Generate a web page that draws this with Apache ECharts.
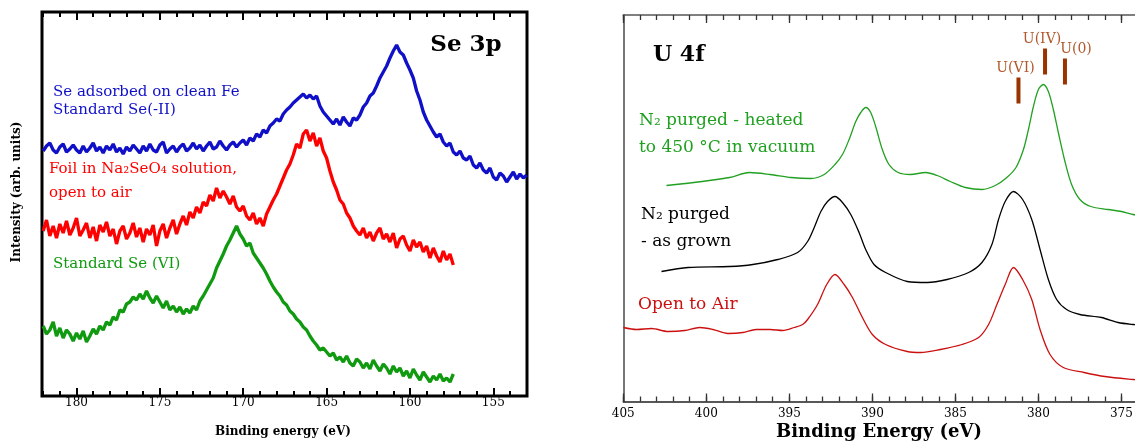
<!DOCTYPE html>
<html>
<head>
<meta charset="utf-8">
<script src="https://cdn.jsdelivr.net/npm/echarts@6/dist/echarts.min.js"></script>
<style>
  html, body { margin: 0; padding: 0; background: #fff; overflow: hidden; }
  #chart { width: 1135px; height: 445px; }
</style>
</head>
<body>
<div id="chart"></div>
<script>
// ---- Se 3p panel (binding energy eV, intensity arb. units) ----
const seAdsorbed = [
  [182.0,245],[181.8,250],[181.6,253],[181.4,246],[181.2,243],[181.0,249],[180.8,252],[180.6,244],
  [180.4,247],[180.2,251],[180.0,246],[179.8,243],[179.6,250],[179.4,244],[179.2,248],[179.0,253],
  [178.8,245],[178.6,249],[178.4,243],[178.2,250],[178.0,246],[177.8,252],[177.6,244],[177.4,248],
  [177.2,242],[177.0,249],[176.8,245],[176.6,251],[176.4,247],[176.2,243],[176.0,250],[175.8,245],
  [175.6,252],[175.4,246],[175.2,244],[175.0,251],[174.8,254],[174.6,243],[174.4,247],[174.2,250],
  [174.0,244],[173.8,249],[173.6,252],[173.4,245],[173.2,248],[173.0,253],[172.8,247],[172.6,251],
  [172.4,245],[172.2,250],[172.0,254],[171.8,247],[171.6,249],[171.4,255],[171.2,250],[171.0,246],
  [170.8,251],[170.6,254],[170.4,249],[170.2,253],[170.0,256],[169.8,251],[169.6,258],[169.4,255],
  [169.2,262],[169.0,259],[168.8,266],[168.6,263],[168.4,270],[168.2,273],[168.0,277],[167.8,275],
  [167.6,282],[167.4,286],[167.2,289],[167.0,293],[166.8,296],[166.6,299],[166.4,302],[166.2,298],
  [166.0,301],[165.8,297],[165.6,300],[165.4,290],[165.2,284],[165.0,280],[164.8,276],[164.6,272],
  [164.4,277],[164.2,271],[164.0,279],[163.8,274],[163.6,270],[163.4,278],[163.2,276],[163.0,281],
  [162.8,289],[162.6,293],[162.4,300],[162.2,303],[162.0,310],[161.8,318],[161.6,324],[161.4,330],
  [161.2,338],[161.0,345],[160.8,351],[160.6,344],[160.4,341],[160.2,333],[160.0,326],[159.8,318],
  [159.6,305],[159.4,296],[159.2,284],[159.0,276],[158.8,270],[158.6,264],[158.4,259],[158.2,262],
  [158.0,254],[157.8,250],[157.6,253],[157.4,244],[157.2,241],[157.0,245],[156.8,238],[156.6,236],
  [156.4,240],[156.2,231],[156.0,228],[155.8,233],[155.6,226],[155.4,223],[155.2,228],[155.0,219],
  [154.8,216],[154.6,223],[154.4,220],[154.2,214],[154.0,219],[153.8,224],[153.6,217],[153.4,222],
  [153.2,218],[153.0,221]
];
const seFoil = [
  [182.0,165],[181.8,176],[181.6,160],[181.4,170],[181.2,158],[181.0,172],[180.8,163],[180.6,175],
  [180.4,161],[180.2,168],[180.0,178],[179.8,160],[179.6,166],[179.4,173],[179.2,158],[179.0,169],
  [178.8,155],[178.6,171],[178.4,164],[178.2,174],[178.0,160],[177.8,167],[177.6,152],[177.4,165],
  [177.2,170],[177.0,157],[176.8,163],[176.6,173],[176.4,159],[176.2,168],[176.0,154],[175.8,167],
  [175.6,161],[175.4,171],[175.2,150],[175.0,165],[174.8,172],[174.6,158],[174.4,168],[174.2,176],
  [174.0,162],[173.8,172],[173.6,180],[173.4,171],[173.2,184],[173.0,178],[172.8,189],[172.6,183],
  [172.4,194],[172.2,190],[172.0,201],[171.8,195],[171.6,208],[171.4,198],[171.2,205],[171.0,199],
  [170.8,192],[170.6,200],[170.4,189],[170.2,185],[170.0,190],[169.8,180],[169.6,176],[169.4,183],
  [169.2,172],[169.0,178],[168.8,170],[168.6,182],[168.4,189],[168.2,196],[168.0,202],[167.8,210],
  [167.6,218],[167.4,226],[167.2,232],[167.0,241],[166.8,252],[166.6,248],[166.4,262],[166.2,266],
  [166.0,255],[165.8,263],[165.6,250],[165.4,258],[165.2,245],[165.0,238],[164.8,225],[164.6,214],
  [164.4,206],[164.2,196],[164.0,192],[163.8,183],[163.6,178],[163.4,170],[163.2,165],[163.0,161],
  [162.8,168],[162.6,158],[162.4,164],[162.2,155],[162.0,163],[161.8,168],[161.6,157],[161.4,162],
  [161.2,154],[161.0,163],[160.8,148],[160.6,157],[160.4,160],[160.2,151],[160.0,145],[159.8,156],
  [159.6,149],[159.4,154],[159.2,144],[159.0,150],[158.8,138],[158.6,148],[158.4,140],[158.2,134],
  [158.0,145],[157.8,136],[157.6,142],[157.4,131]
];
const seStandardVI = [
  [182.0,70],[181.8,62],[181.6,66],[181.4,74],[181.2,60],[181.0,68],[180.8,58],[180.6,66],
  [180.4,62],[180.2,55],[180.0,63],[179.8,57],[179.6,65],[179.4,54],[179.2,60],[179.0,67],
  [178.8,62],[178.6,70],[178.4,66],[178.2,74],[178.0,71],[177.8,79],[177.6,76],[177.4,86],
  [177.2,84],[177.0,92],[176.8,94],[176.6,99],[176.4,96],[176.2,102],[176.0,97],[175.8,105],
  [175.6,98],[175.4,93],[175.2,100],[175.0,94],[174.8,88],[174.6,95],[174.4,86],[174.2,90],
  [174.0,84],[173.8,89],[173.6,82],[173.4,87],[173.2,83],[173.0,90],[172.8,86],[172.6,95],
  [172.4,100],[172.2,106],[172.0,112],[171.8,118],[171.6,128],[171.4,135],[171.2,142],[171.0,150],
  [170.8,156],[170.6,163],[170.4,170],[170.2,162],[170.0,157],[169.8,150],[169.6,153],[169.4,143],
  [169.2,138],[169.0,133],[168.8,128],[168.6,122],[168.4,115],[168.2,109],[168.0,104],[167.8,100],
  [167.6,94],[167.4,91],[167.2,85],[167.0,82],[166.8,77],[166.6,74],[166.4,69],[166.2,66],
  [166.0,60],[165.8,55],[165.6,51],[165.4,46],[165.2,48],[165.0,44],[164.8,40],[164.6,43],
  [164.4,36],[164.2,39],[164.0,34],[163.8,40],[163.6,33],[163.4,30],[163.2,37],[163.0,34],
  [162.8,28],[162.6,33],[162.4,27],[162.2,36],[162.0,30],[161.8,25],[161.6,32],[161.4,28],
  [161.2,22],[161.0,30],[160.8,24],[160.6,28],[160.4,20],[160.2,25],[160.0,18],[159.8,27],
  [159.6,21],[159.4,16],[159.2,24],[159.0,19],[158.8,14],[158.6,20],[158.4,16],[158.2,22],
  [158.0,15],[157.8,18],[157.6,14],[157.4,22]
];
const seMajorTicks = [155, 160, 165, 170, 175, 180];
const seMinorTicks = [153,154,155,156,157,158,159,160,161,162,163,164,165,166,167,168,169,170,
  171,172,173,174,175,176,177,178,179,180,181,182];

// ---- U 4f panel ----
const uHeated = [
  [402.4,216],[400.25,220],[398.6,224],[397.4,229],[396.15,227],[394.9,224],[393.7,223],[392.9,227],
  [392.25,237],[391.8,247],[391.4,262],[391.0,280],[390.7,289],[390.4,294],[390.1,289],[389.8,275],
  [389.4,252],[389.0,237],[388.45,229],[387.7,227],[386.8,229],[386.1,226],[385.3,220],[384.4,214],
  [383.4,212],[382.6,216],[381.9,224],[381.35,234],[380.9,252],[380.6,272],[380.3,295],[380.0,312],
  [379.7,317],[379.4,310],[379.1,292],[378.8,269],[378.4,240],[378.0,217],[377.5,202],[376.85,195],
  [375.8,192],[375.0,190],[374.3,187],[373.5,186],[373.0,185]
];
const uAsGrown = [
  [402.7,130],[401.1,134],[398.6,135],[397.2,137],[395.7,142],[394.5,149],[393.9,160],[393.5,174],
  [393.1,190],[392.7,200],[392.25,205],[391.8,199],[391.3,187],[390.8,169],[390.4,152],[389.9,137],
  [389.2,129],[387.9,120],[386.7,119],[385.5,122],[384.2,129],[383.4,139],[382.8,157],[382.4,182],
  [382.0,200],[381.5,210],[380.95,202],[380.4,182],[379.9,152],[379.4,122],[378.9,102],[378.3,92],
  [377.5,87],[376.2,84],[375.2,79],[374.3,77],[373.5,76],[373.0,75]
];
const uOpenAir = [
  [405.0,74],[404.2,72],[403.3,73],[402.3,70],[401.3,71],[400.4,74],[399.6,72],[398.7,68],
  [397.8,69],[397.0,72],[396.15,72],[395.4,71],[394.7,74],[394.2,77],[393.9,82],[393.3,97],
  [392.75,117],[392.25,127],[391.7,117],[391.2,104],[390.6,84],[390.0,67],[389.2,57],[387.9,50],
  [387.1,49],[385.9,52],[384.6,57],[383.6,64],[383.0,77],[382.5,97],[382.0,117],[381.5,134],
  [380.95,122],[380.4,102],[379.9,72],[379.3,47],[378.5,34],[377.25,29],[376.0,25],[374.3,22],
  [373.5,21],[373.0,20]
];
const uStates = ['U(VI)', 'U(IV)', 'U(0)'];
const uStateEnergy = [381.2, 379.6, 378.4];
const uStateLow = [298, 327, 317];
const uStateHigh = [324, 353, 343];
const uMajorTicks = [375, 380, 385, 390, 395, 400, 405];
const uMinorTicks = [374,375,376,377,378,379,380,381,382,383,384,385,386,387,388,389,390,
  391,392,393,394,395,396,397,398,399,400,401,402,403,404,405];

const FONT = '"DejaVu Serif", "Liberation Serif", serif';

function tickAxis(grid, pos, min, max, ticks, len, width, color, labels, labelOpt, lineColor) {
  return {
    type: 'value', gridIndex: grid, position: pos, min: min, max: max, inverse: true,
    axisLine: { show: !!lineColor, lineStyle: { color: lineColor || color, width: 1.5 } },
    splitLine: { show: false },
    axisTick: { show: true, inside: true, length: len, customValues: ticks,
      lineStyle: { color: color, width: width } },
    axisLabel: labels ? Object.assign({ show: true, customValues: ticks, color: '#000',
      fontFamily: FONT, fontSize: 12 }, labelOpt) : { show: false }
  };
}

const chart = echarts.init(document.getElementById('chart'), null, { renderer: 'canvas' });

const seMin = 152.98, seMax = 182.07;
const uMin = 373.2, uMax = 405;

chart.setOption({
  animation: false,
  backgroundColor: '#fff',
  grid: [
    { left: 42, top: 12, width: 485, height: 384, show: true, borderColor: '#000', borderWidth: 3,
      backgroundColor: 'transparent', outerBoundsMode: 'none', containLabel: false },
    { left: 623.3, top: 15, width: 528, height: 386.5, show: false,
      outerBoundsMode: 'none', containLabel: false }
  ],
  xAxis: [
    tickAxis(0, 'bottom', seMin, seMax, seMajorTicks, 8, 2, '#000', true, { margin: 1 }),
    tickAxis(0, 'bottom', seMin, seMax, seMinorTicks, 5, 2, '#000', false),
    tickAxis(0, 'top', seMin, seMax, seMajorTicks, 8, 2, '#000', false),
    tickAxis(0, 'top', seMin, seMax, seMinorTicks, 5, 2, '#000', false),
    tickAxis(1, 'bottom', uMin, uMax, uMajorTicks, 8, 1.3, '#333', true, { margin: 6 }, '#222'),
    tickAxis(1, 'bottom', uMin, uMax, uMinorTicks, 5, 1.3, '#333', false),
    tickAxis(1, 'top', uMin, uMax, uMajorTicks, 8, 1.3, '#333', false, null, '#555'),
    tickAxis(1, 'top', uMin, uMax, uMinorTicks, 5, 1.3, '#333', false)
  ],
  yAxis: [
    { type: 'value', gridIndex: 0, min: 0, max: 384, show: false },
    { type: 'value', gridIndex: 1, min: 0, max: 386.5, position: 'left',
      axisLine: { show: true, lineStyle: { color: '#555', width: 1.6 } },
      axisTick: { show: false }, axisLabel: { show: false }, splitLine: { show: false } }
  ],
  series: [
    { type: 'line', xAxisIndex: 0, yAxisIndex: 0, data: seAdsorbed, showSymbol: false,
      lineStyle: { color: '#1010c8', width: 3.3 } },
    { type: 'line', xAxisIndex: 0, yAxisIndex: 0, data: seFoil, showSymbol: false,
      lineStyle: { color: '#ff0000', width: 3.3 } },
    { type: 'line', xAxisIndex: 0, yAxisIndex: 0, data: seStandardVI, showSymbol: false,
      lineStyle: { color: '#109a10', width: 3.3 } },
    { type: 'line', xAxisIndex: 4, yAxisIndex: 1, data: uHeated, showSymbol: false, smooth: 0.3,
      lineStyle: { color: '#22a022', width: 1.3 } },
    { type: 'line', xAxisIndex: 4, yAxisIndex: 1, data: uAsGrown, showSymbol: false, smooth: 0.3,
      lineStyle: { color: '#000', width: 1.3 } },
    { type: 'line', xAxisIndex: 4, yAxisIndex: 1, data: uOpenAir, showSymbol: false, smooth: 0.3,
      lineStyle: { color: '#cc1010', width: 1.3 } },
    {
      type: 'custom', xAxisIndex: 4, yAxisIndex: 1,
      data: uStateEnergy.map((e, i) => [e, uStateLow[i], uStateHigh[i]]),
      renderItem: function (params, api) {
        const lo = api.coord([api.value(0), api.value(1)]);
        const hi = api.coord([api.value(0), api.value(2)]);
        const dx = params.dataIndex === 2 ? 11 : -3;
        return {
          type: 'group',
          children: [
            { type: 'rect', shape: { x: lo[0] - 2, y: hi[1], width: 4, height: lo[1] - hi[1] },
              style: { fill: '#993300' } },
            { type: 'text', x: hi[0] + dx, y: hi[1] - 9,
              style: { text: uStates[params.dataIndex], fill: '#b0582c', font: '14px ' + FONT,
                align: 'center', verticalAlign: 'middle' } }
          ]
        };
      }
    }
  ],
  graphic: [
    { type: 'text', x: 17, y: 192, rotation: Math.PI / 2,
      style: { text: 'Intensity (arb. units)', font: 'bold 12px ' + FONT, fill: '#000',
        align: 'center', verticalAlign: 'middle' } },
    { type: 'text', x: 283, y: 432,
      style: { text: 'Binding energy (eV)', font: 'bold 12px ' + FONT, fill: '#000',
        align: 'center', verticalAlign: 'middle' } },
    { type: 'text', x: 466, y: 45,
      style: { text: 'Se 3p', font: 'bold 23px ' + FONT, fill: '#000',
        align: 'center', verticalAlign: 'middle' } },
    { type: 'text', x: 53, y: 92,
      style: { text: 'Se adsorbed on clean Fe', font: '15px ' + FONT, fill: '#1010c8', verticalAlign: 'middle' } },
    { type: 'text', x: 53, y: 110,
      style: { text: 'Standard Se(-II)', font: '15px ' + FONT, fill: '#1010c8', verticalAlign: 'middle' } },
    { type: 'text', x: 49, y: 169,
      style: { text: 'Foil in Na\u2082SeO\u2084 solution,', font: '15px ' + FONT, fill: '#ff0000', verticalAlign: 'middle' } },
    { type: 'text', x: 49, y: 193,
      style: { text: 'open to air', font: '15px ' + FONT, fill: '#ff0000', verticalAlign: 'middle' } },
    { type: 'text', x: 53, y: 264,
      style: { text: 'Standard Se (VI)', font: '15px ' + FONT, fill: '#109a10', verticalAlign: 'middle' } },
    { type: 'text', x: 879, y: 432,
      style: { text: 'Binding Energy (eV)', font: 'bold 18px ' + FONT, fill: '#000',
        align: 'center', verticalAlign: 'middle' } },
    { type: 'text', x: 653, y: 55,
      style: { text: 'U 4f', font: 'bold 22px ' + FONT, fill: '#000', verticalAlign: 'middle' } },
    { type: 'text', x: 639, y: 121,
      style: { text: 'N\u2082 purged - heated', font: '17px ' + FONT, fill: '#20a020', verticalAlign: 'middle' } },
    { type: 'text', x: 639, y: 148,
      style: { text: 'to 450 \u00b0C in vacuum', font: '17px ' + FONT, fill: '#20a020', verticalAlign: 'middle' } },
    { type: 'text', x: 641, y: 215,
      style: { text: 'N\u2082 purged', font: '17px ' + FONT, fill: '#000', verticalAlign: 'middle' } },
    { type: 'text', x: 641, y: 242,
      style: { text: '- as grown', font: '17px ' + FONT, fill: '#000', verticalAlign: 'middle' } },
    { type: 'text', x: 638, y: 305,
      style: { text: 'Open to Air', font: '17px ' + FONT, fill: '#cc1010', verticalAlign: 'middle' } }
  ]
});
</script>
</body>
</html>
